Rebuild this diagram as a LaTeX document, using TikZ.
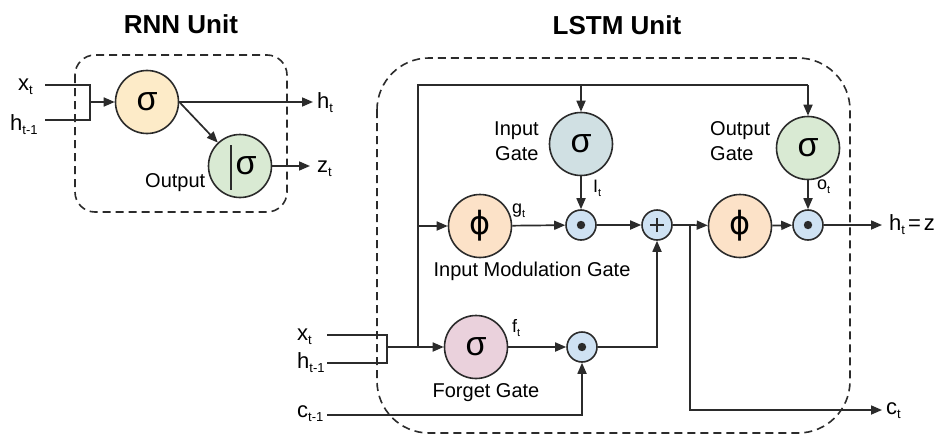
\documentclass[tikz,border=0pt]{standalone}
\usepackage{fontspec}
\setmainfont{Liberation Sans}
\newfontfamily\symfont{DejaVu Sans}
\usetikzlibrary{arrows.meta}

\definecolor{linec}{HTML}{2B2B2B}
\definecolor{sigfill}{HTML}{FDEBC8}
\definecolor{grnfill}{HTML}{D9EAD3}
\definecolor{phifill}{HTML}{FCE2C8}
\definecolor{cyanfill}{HTML}{D0E0E3}
\definecolor{pinkfill}{HTML}{EAD1DC}
\definecolor{opfill}{HTML}{CFE2F3}

% subscripts for the large and the small labels
\newcommand\lsub[1]{\raisebox{-4.5pt}{\fontsize{13}{13}\selectfont #1}}
\newcommand\ssub[1]{\raisebox{-4pt}{\fontsize{11}{11}\selectfont #1}}

\begin{document}
\begin{tikzpicture}[x=1pt,y=-1pt,
  wire/.style={draw=linec, line width=1.7pt},
  arr/.style={wire, -{Triangle[length=11pt,width=9pt]}},
  gate/.style={circle, draw=linec, line width=1.6pt, minimum size=63pt,
    inner sep=0pt, font=\fontsize{34}{34}\selectfont},
  opnode/.style={circle, draw=linec, line width=1.6pt, minimum size=30pt,
    fill=opfill, inner sep=0pt},
  lbl/.style={font=\fontsize{22}{22}\selectfont, inner sep=0pt, anchor=base west},
  glbl/.style={font=\fontsize{20}{20}\selectfont, inner sep=0pt, anchor=base west},
  slbl/.style={font=\fontsize{18}{18}\selectfont, inner sep=0pt, anchor=base west},
  title/.style={font=\fontsize{26}{26}\selectfont\bfseries, inner sep=0pt},
  unitbox/.style={draw=linec, line width=1.6pt, dash pattern=on 8pt off 5pt}
]
\useasboundingbox[fill=white] (0,0) rectangle (941,436);

% ---------------- RNN unit ----------------
\node[title] (rnnt) at (181,24) {RNN Unit};
\draw[unitbox, rounded corners=20pt] (75,55) rectangle (287,212);

\node[gate, fill=sigfill] (rs) at (147,102) {σ};
\node[gate, fill=grnfill] (ro) at (240,166) {};
\node[font=\fontsize{34}{34}\selectfont, inner sep=0pt] (ros) at (246,166) {σ};
\draw[wire] ([shift={(-9pt,21pt)}]ro.center) -- ([shift={(-9pt,-24pt)}]ro.center);

\coordinate (rx) at (45,85);
\coordinate (rxc) at (90,85);
\coordinate (rhc) at (90,120);
\coordinate (rh) at (45,120);
\coordinate (rj) at (90,102);
\draw[wire] (rx) -- (rxc) -- (rhc) -- (rh);
\draw[arr] (rj) -- (rs);
\coordinate (rhout) at (313,102);
\draw[arr] (rs) -- (rhout);
\draw[arr] (rs.east) -- (ro);
\coordinate (rzout) at (310,166);
\draw[arr] (ro) -- (rzout);

\node[lbl] (rxl) at (18,90) {x\lsub{t}};
\node[lbl] (rhl) at (10,130) {h\lsub{t-1}};
\node[lbl] (rhol) at (317,108) {h\lsub{t}};
\node[lbl] (rzl) at (317,172) {z\lsub{t}};
\node[glbl] (rol) at (145,187) {Output};

% ---------------- LSTM unit ----------------
\node[title] (lt) at (617,25) {LSTM Unit};
\draw[unitbox, rounded corners=52pt] (377,58) rectangle (850,433);

\node[gate, fill=cyanfill] (ig) at (581,144) {σ};
\node[gate, fill=grnfill] (og) at (808,148) {σ};
\node[gate, fill=phifill, font=\fontsize{32}{32}\symfont] (p1) at (480,226) {ϕ};
\node[gate, fill=phifill, font=\fontsize{32}{32}\symfont] (p2) at (740,226) {ϕ};
\node[gate, fill=pinkfill] (fg) at (476,347) {σ};

\node[opnode] (d1) at (581,225) {};
\node[opnode] (pl) at (657,225) {};
\node[opnode] (d2) at (808,225) {};
\node[opnode] (d3) at (582,347) {};
\fill[linec] (d1.center) circle (4.2pt);
\fill[linec] (d2.center) circle (4.2pt);
\fill[linec] (d3.center) circle (4.2pt);
\draw[wire] ([xshift=-7pt]pl.center) -- ([xshift=7pt]pl.center);
\draw[wire] ([yshift=-7pt]pl.center) -- ([yshift=7pt]pl.center);

% recurrent feed along the top
\coordinate (fj) at (418,347);
\coordinate (mj) at (418,226);
\coordinate (tl) at (418,85);
\coordinate (ti) at (581,85);
\coordinate (to) at (808,85);
\draw[wire] (fj) -- (tl) -- (to);
\draw[arr] (ti) -- (ig);
\draw[arr] (to) -- (og);
\draw[arr] (mj) -- (p1);

% inputs x_t, h_{t-1}
\coordinate (lx) at (327,335);
\coordinate (lxc) at (387,335);
\coordinate (lhc) at (387,363);
\coordinate (lh) at (327,363);
\coordinate (lj) at (387,347);
\draw[wire] (lx) -- (lxc) -- (lhc) -- (lh);
\draw[arr] (lj) -- (fg);

% cell path
\draw[arr] (p1) -- (d1);
\draw[arr] (ig) -- (d1);
\draw[arr] (d1) -- (pl);
\coordinate (cj) at (690,225);
\draw[wire] (pl) -- (cj);
\draw[arr] (cj) -- (p2);
\draw[arr] (p2) -- (d2);
\draw[arr] (og) -- (d2);
\coordinate (hout) at (882,225);
\draw[arr] (d2) -- (hout);
\coordinate (cb) at (690,410);
\coordinate (cout) at (882,410);
\draw[arr] (cj) -- (cb) -- (cout);

\draw[arr] (fg) -- (d3);
\coordinate (fr) at (657,347);
\draw[arr] (d3) -- (fr) -- (pl);
\coordinate (cin) at (327,415);
\coordinate (cc) at (582,415);
\draw[arr] (cin) -- (cc) -- (d3);

% labels
\node[glbl] (igl1) at (494,135) {Input};
\node[glbl] (igl2) at (495,160) {Gate};
\node[glbl] (ogl1) at (710,135) {Output};
\node[glbl] (ogl2) at (710,160) {Gate};
\node[glbl, anchor=base] (pml) at (532,276) {Input Modulation Gate};
\node[glbl, anchor=base] (fgl) at (486,397) {Forget Gate};

\node[slbl] (gtl) at (512,213) {g\ssub{t}};
\node[slbl] (itl) at (593,192) {I\ssub{t}};
\node[slbl] (otl) at (817,189) {o\ssub{t}};
\node[slbl] (ftl) at (512,332) {f\ssub{t}};

\node[lbl] (lxl) at (297,340) {x\lsub{t}};
\node[lbl] (lhl) at (297,368) {h\lsub{t-1}};
\node[lbl] (lcl) at (297,417) {c\lsub{t-1}};
\node[lbl] (hzl) at (889,230) {h\lsub{t}\kern3pt=\kern3pt z};
\node[lbl] (ctl) at (886,414) {c\lsub{t}};
\end{tikzpicture}
\end{document}
